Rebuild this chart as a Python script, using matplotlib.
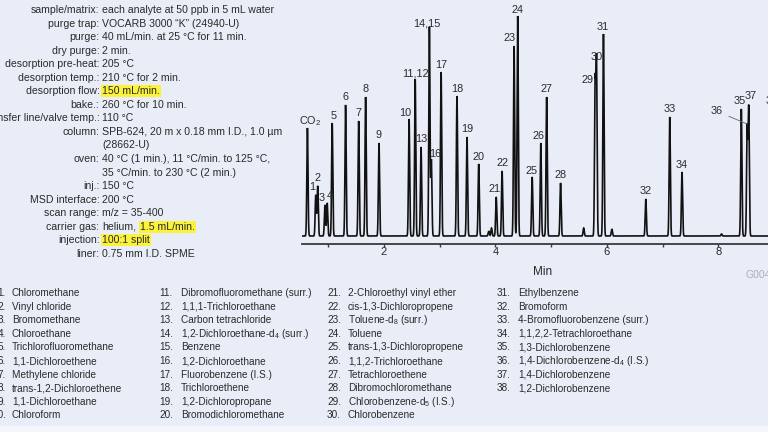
import numpy as np
import matplotlib.pyplot as plt
from matplotlib.ticker import FixedLocator

plt.rcParams['font.family'] = ['Liberation Sans', 'DejaVu Sans']
plt.rcParams['mathtext.fontset'] = 'custom'
plt.rcParams['mathtext.rm'] = 'Liberation Sans'
plt.rcParams['mathtext.it'] = 'Liberation Sans:italic'

BG = '#e9edf7'
HL = '#fbf23c'
INK = '#2a2a2a'

# ── conditions panel ────────────────────────────────────────
cond_keys = ["sample/matrix:", "purge trap:", "purge:", "dry purge:",
             "desorption pre-heat:", "desorption temp.:", "desorption flow:",
             "bake.:", "transfer line/valve temp.:", "column:", "", "oven:", "",
             "inj.:", "MSD interface:", "scan range:", "carrier gas:",
             "injection:", "liner:"]
cond_vals = ["each analyte at 50 ppb in 5 mL water",
             "VOCARB 3000 \u201cK\u201d (24940-U)",
             "40 mL/min. at 25 \u00b0C for 11 min.",
             "2 min.",
             "205 \u00b0C",
             "210 \u00b0C for 2 min.",
             "150 mL/min.",
             "260 \u00b0C for 10 min.",
             "110 \u00b0C",
             "SPB-624, 20 m x 0.18 mm I.D., 1.0 \u00b5m",
             "(28662-U)",
             "40 \u00b0C (1 min.), 11 \u00b0C/min. to 125 \u00b0C,",
             "35 \u00b0C/min. to 230 \u00b0C (2 min.)",
             "150 \u00b0C",
             "200 \u00b0C",
             "m/z = 35-400",
             "helium,",
             "100:1 split",
             "0.75 mm I.D. SPME"]
cond_hl = {6: "all", 16: "1.5 mL/min.", 17: "all"}

# ── peak table (retention time in min, height in detector units) ──
peak_labels = ["CO$_2$", "1", "2", "3", "4", "5", "6", "7", "8", "9", "10",
               "11,12", "13", "14,15", "16", "17", "18", "19", "20", "",
               "", "21", "22", "23", "24", "25", "26", "27", "28", "", "29",
               "30", "31", "", "32", "33", "34", "", "35", "36", "37", "38"]
peak_times = [0.625, 0.775, 0.81, 0.94, 0.98, 1.07, 1.31, 1.545, 1.67, 1.91,
              2.45, 2.56, 2.665, 2.815, 2.85, 3.025, 3.31, 3.49, 3.70, 3.88,
              3.93, 4.015, 4.12, 4.335, 4.40, 4.66, 4.815, 4.92, 5.17, 5.585,
              5.79, 5.815, 5.94, 6.09, 6.70, 7.13, 7.35, 8.06, 8.415, 8.52,
              8.548, 8.966]
peak_heights = [108, 41, 50, 31, 33, 113, 131, 115, 139, 93,
                117, 157, 89, 209, 76, 164, 140, 99, 72, 5,
                8, 39, 65, 190, 220, 59, 93, 139, 53, 8,
                150, 172, 202, 7, 37, 119, 64, 2, 127, 108,
                128, 128]

# label offsets in pixels from the peak apex (dx, dy)
label_off = {"CO$_2$": (3, 7), "1": (-3.5, 8), "3": (-3, 7), "4": (2.5, 7),
             "5": (1, 7), "10": (-3.5, 6), "11,12": (0.5, 5), "14,15": (-2.5, 4),
             "16": (4, 6), "21": (-2, 8), "23": (-4, 8), "24": (0, 6),
             "25": (-1, 6), "26": (-2.5, 7), "29": (-7.5, 6), "31": (-1, 7),
             "35": (-1.5, 8), "37": (2, 12)}

# ── compound list ───────────────────────────────────────────
compounds = ["Chloromethane", "Vinyl chloride", "Bromomethane", "Chloroethane",
             "Trichlorofluoromethane", "1,1-Dichloroethene", "Methylene chloride",
             "trans-1,2-Dichloroethene", "1,1-Dichloroethane", "Chloroform",
             "Dibromofluoromethane (surr.)", "1,1,1-Trichloroethane",
             "Carbon tetrachloride", "1,2-Dichloroethane-d$_4$ (surr.)", "Benzene",
             "1,2-Dichloroethane", "Fluorobenzene (I.S.)", "Trichloroethene",
             "1,2-Dichloropropane", "Bromodichloromethane",
             "2-Chloroethyl vinyl ether", "cis-1,3-Dichloropropene",
             "Toluene-d$_8$ (surr.)", "Toluene", "trans-1,3-Dichloropropene",
             "1,1,2-Trichloroethane", "Tetrachloroethene", "Dibromochloromethane",
             "Chlorobenzene-d$_5$ (I.S.)", "Chlorobenzene",
             "Ethylbenzene", "Bromoform", "4-Bromofluorobenzene (surr.)",
             "1,1,2,2-Tetrachloroethane", "1,3-Dichlorobenzene",
             "1,4-Dichlorobenzene-d$_4$ (I.S.)", "1,4-Dichlorobenzene",
             "1,2-Dichlorobenzene"]

W, H = 768, 432
fig = plt.figure(figsize=(W / 100, H / 100), dpi=100, facecolor=BG)


def fx(px):
    return px / W


def fy(py):
    return 1 - py / H


# ── chromatogram ────────────────────────────────────────────
px_per_min = 55.7
x0_px = 272.6
ax_left, ax_right, ax_bot = 302, 830, 244
ax = fig.add_axes([fx(ax_left), fy(ax_bot), fx(ax_right - ax_left), ax_bot / H])
ax.set_facecolor('none')
ax.set_xlim((ax_left - x0_px) / px_per_min, (ax_right - x0_px) / px_per_min)
ax.set_ylim(-8, 236)

t = np.arange(0.52, 10.0, 0.0005)
sig = 0.0105
trace = np.zeros_like(t)
for tc, h in zip(peak_times, peak_heights):
    trace += h * np.exp(-0.5 * ((t - tc) / sig) ** 2)
ax.plot(t, trace, color='#111111', lw=1.2, solid_joinstyle='miter')

for lab, tc, h in zip(peak_labels, peak_times, peak_heights):
    if not lab:
        continue
    dx, dy = label_off.get(lab, (0, 7.5))
    if lab == "36":
        ax.annotate(lab, xy=(tc, h + 4), xytext=(-31, 13), textcoords='offset pixels',
                    ha='center', va='center', fontsize=7.8, color=INK,
                    arrowprops=dict(arrowstyle='-', color='#666666', lw=0.6,
                                    shrinkA=3, shrinkB=0))
        continue
    ax.annotate(lab, xy=(tc, h), xytext=(dx, dy), textcoords='offset pixels',
                ha='center', va='center', fontsize=7.8, color=INK)

for s in ['top', 'right', 'left']:
    ax.spines[s].set_visible(False)
ax.spines['bottom'].set_color('#3a3a3a')
ax.spines['bottom'].set_linewidth(1.3)
ax.set_yticks([])
ax.xaxis.set_major_locator(FixedLocator([2, 4, 6, 8]))
ax.xaxis.set_minor_locator(FixedLocator([1, 3, 5, 7]))
ax.tick_params(axis='x', which='both', direction='out', length=2.5, width=1,
               color='#3a3a3a', labelsize=8, labelcolor=INK, pad=0)
fig.text(fx(543), fy(272), "Min", ha='center', va='center', fontsize=8.5, color=INK)
fig.text(fx(746), fy(275), "G004525", ha='left', va='center', fontsize=7.5,
         color='#a9afbb')

# ── conditions text ─────────────────────────────────────────
fig.canvas.draw()
renderer = fig.canvas.get_renderer()
csize = 7.6
for i, (k, v) in enumerate(zip(cond_keys, cond_vals)):
    y = fy(10 + 13.55 * i)
    if k:
        fig.text(fx(99.5), y, k, ha='right', va='center', fontsize=csize, color=INK)
    if cond_hl.get(i) == "all":
        fig.text(fx(102), y, v, ha='left', va='center', fontsize=csize, color=INK,
                 bbox=dict(boxstyle='square,pad=0.1', fc=HL, ec='none'))
    else:
        tx = fig.text(fx(102), y, v, ha='left', va='center', fontsize=csize, color=INK)
        if i in cond_hl:
            bb = tx.get_window_extent(renderer)
            fig.text(fx(bb.x1 + 4), y, cond_hl[i], ha='left', va='center',
                     fontsize=csize, color=INK,
                     bbox=dict(boxstyle='square,pad=0.1', fc=HL, ec='none'))

# ── compound list ───────────────────────────────────────────
col_num_x = [6, 173, 341, 511]
col_name_x = [12, 181, 348, 518]
lsize = 7.2
for j, name in enumerate(compounds):
    col, row = divmod(j, 10)
    y = fy(293 + 13.6 * row)
    fig.text(fx(col_num_x[col]), y, f"{j + 1}.", ha='right', va='center',
             fontsize=lsize, color=INK)
    fig.text(fx(col_name_x[col]), y, name, ha='left', va='center',
             fontsize=lsize, color=INK)

fig.add_artist(plt.Rectangle((0, 0), 1, fy(426), transform=fig.transFigure,
                             fc='#f4f6fb', ec='none'))

fig.savefig("out.png", dpi=100, facecolor=BG)
